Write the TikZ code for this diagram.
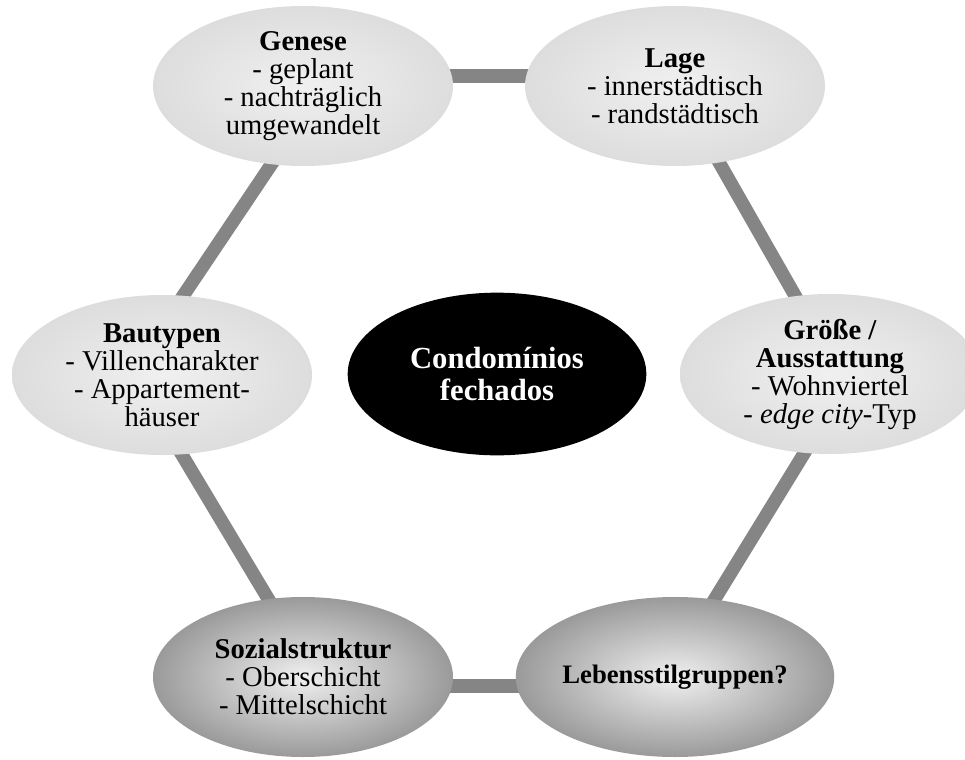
\documentclass[tikz,border=0pt]{standalone}
\usepackage{fontspec}
\setmainfont{Liberation Serif}
\usetikzlibrary{shapes.geometric,backgrounds}
\definecolor{LinkGray}{HTML}{858585}
\definecolor{BubLight}{HTML}{F0F0F0}
\definecolor{BubEdge}{HTML}{DDDDDD}
\definecolor{DarkEdge}{HTML}{9A9A9A}
\begin{document}
\begin{tikzpicture}[x=0.75pt,y=-0.75pt,font=\fontsize{21.5pt}{21pt}\selectfont,
        bub/.style={ellipse,minimum width=225pt,minimum height=120pt,inner sep=0pt,align=center,shading=radial,inner color=BubLight,outer color=BubEdge},
        dk/.style={bub,inner color=white!94!black,outer color=DarkEdge},
        core/.style={ellipse,fill=black,text=white,minimum width=224pt,minimum height=122pt,inner sep=0pt,align=center,font=\fontsize{23pt}{24pt}\selectfont\bfseries},
        ln/.style={line width=10pt,draw=LinkGray,shorten <=-6pt,shorten >=-6pt}]
        \useasboundingbox (0,0) rectangle (965,760);
        \node[bub] (gen) at (303,86) {\textbf{Genese}\\- geplant\\- nachträglich\\umgewandelt};
        \node[bub] (lag) at (675,86) {\textbf{Lage}\\- innerstädtisch\\- randstädtisch};
        \node[bub] (bau) at (162,375) {\textbf{Bautypen}\\- Villencharakter\\- Appartement-\\häuser};
        \node[core] (cf) at (497,374) {Condomínios\\fechados};
        \node[bub] (gro) at (830,374) {\textbf{Größe /}\\\textbf{Ausstattung}\\- Wohnviertel\\- \textit{edge city}-Typ};
        \node[dk] (soz) at (303,677) {\textbf{Sozialstruktur}\\- Oberschicht\\- Mittelschicht};
        \node[dk,font=\fontsize{20pt}{21pt}\selectfont\bfseries] (leb) at (675,677) {Lebensstilgruppen?};
        \begin{scope}[on background layer]
          \draw[ln] ([yshift=7.5pt]gen.east)--([yshift=7.5pt]lag.west); \draw[ln] ([yshift=-6.75pt]soz.east)--([yshift=-6.75pt]leb.west);
          \draw[ln] (gen.248)--(bau.75); \draw[ln] (lag.300)--(gro.114);
          \draw[ln] (bau.284)--(soz.114); \draw[ln] (gro.252)--(leb.63);
        \end{scope}
      \end{tikzpicture}
\end{document}
